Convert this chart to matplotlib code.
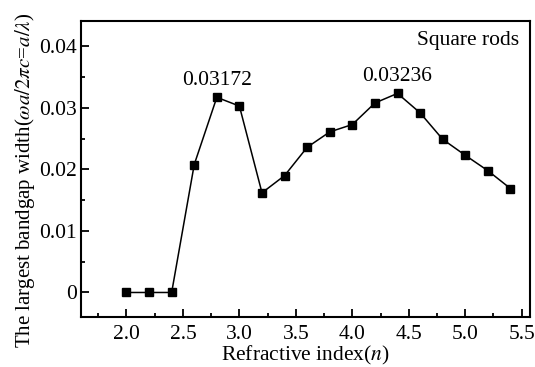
import matplotlib
matplotlib.use('Agg')
import matplotlib.pyplot as plt
from matplotlib.ticker import MultipleLocator

plt.rcParams['font.family'] = ['Liberation Serif', 'DejaVu Serif']
plt.rcParams['mathtext.fontset'] = 'stix'

n = [2.0, 2.2, 2.4, 2.6, 2.8, 3.0, 3.2, 3.4, 3.6, 3.8, 4.0, 4.2, 4.4, 4.6, 4.8, 5.0, 5.2, 5.4]
gap = [0, 0, 0, 0.0208, 0.03172, 0.0303, 0.0162, 0.0190, 0.0236, 0.0261, 0.0273,
       0.0308, 0.03236, 0.0292, 0.0249, 0.0223, 0.0198, 0.0169]
peak_idx = [4, 12]
peak_text = ['0.03172', '0.03236']

fig = plt.figure(figsize=(5.35, 3.67), dpi=100)
ax = fig.add_axes([0.152, 0.136, 0.839, 0.808])

ax.plot(n, gap, color='black', linewidth=1.1, marker='s', markersize=5.5)

for i, t in zip(peak_idx, peak_text):
    ax.annotate(t, (n[i], gap[i]), xytext=(0, 5), textcoords='offset points',
                ha='center', va='bottom', fontsize=15.5)

ax.text(0.975, 0.965, 'Square rods', transform=ax.transAxes, ha='right', va='top', fontsize=15.5)

ax.set_xlim(1.6, 5.575)
ax.set_ylim(-0.004, 0.0442)
ax.xaxis.set_minor_locator(MultipleLocator(0.25))
ax.yaxis.set_minor_locator(MultipleLocator(0.005))
ax.set_xticks([2.0, 2.5, 3.0, 3.5, 4.0, 4.5, 5.0, 5.5])
ax.set_xticklabels(['2.0', '2.5', '3.0', '3.5', '4.0', '4.5', '5.0', '5.5'])
ax.set_yticks([0, 0.01, 0.02, 0.03, 0.04])
ax.set_yticklabels(['0', '0.01', '0.02', '0.03', '0.04'])

ax.tick_params(which='both', direction='in', labelsize=15.5, width=1.3)
ax.tick_params(which='major', length=6)
ax.tick_params(which='minor', length=3)
ax.tick_params(axis='x', pad=6)
ax.tick_params(axis='y', pad=3)
for s in ax.spines.values():
    s.set_linewidth(1.5)

ax.set_xlabel('Refractive index($n$)', fontsize=15.5, labelpad=0)
ax.set_ylabel(r'The largest bandgap width($\omega a/2\pi c$=$a/\lambda$)', fontsize=15, labelpad=2)
ax.yaxis.label.set_y(0.46)

fig.savefig('out.png', dpi=100)
